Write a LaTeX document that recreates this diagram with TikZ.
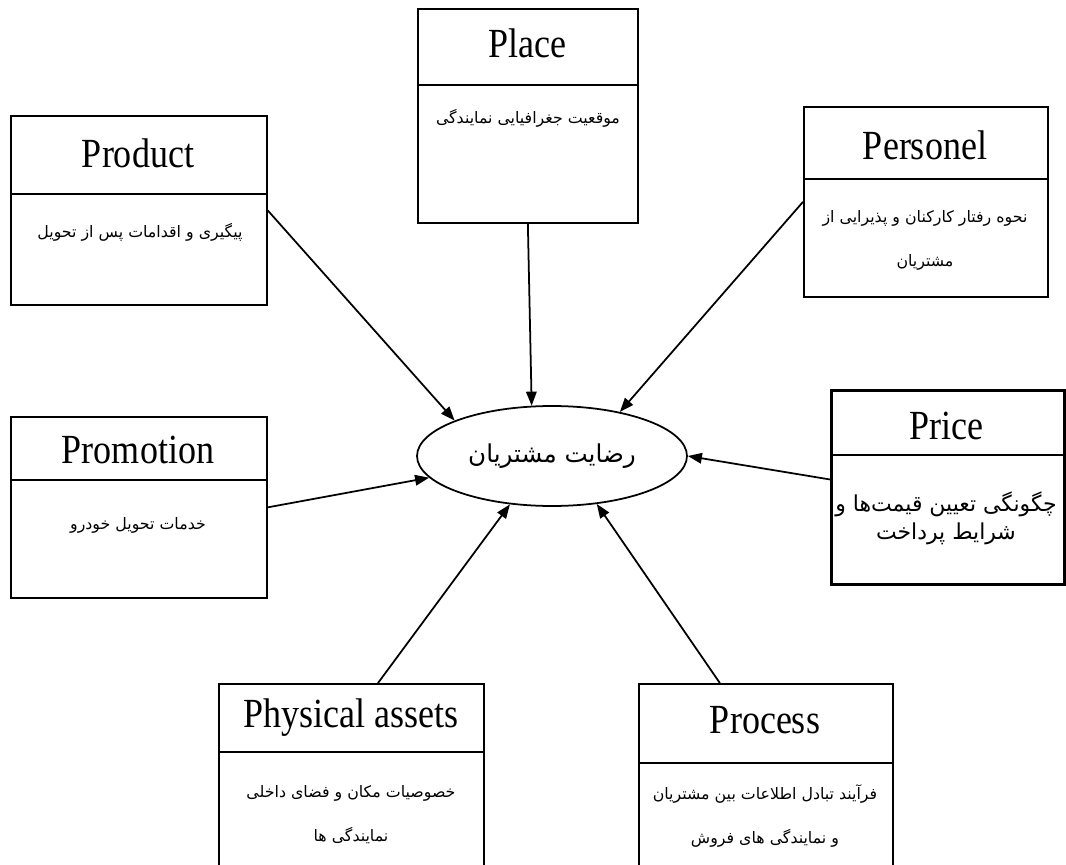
\documentclass[tikz,border=0pt]{standalone}
\usepackage{fontspec}
\setmainfont{Liberation Serif}
\newfontfamily\fa[Script=Arabic]{DejaVu Sans}
\TeXXeTstate=1
\usetikzlibrary{shapes.geometric,arrows.meta,calc}
\tikzset{
  box/.style={draw, line width=1pt, inner sep=0pt, anchor=north west},
  divider/.style={line width=1pt},
  ttl/.style={inner sep=0pt, font=\fontsize{20.5}{24}\selectfont},
  desc/.style={inner sep=0pt, align=center, font=\fa\fontsize{9}{25}\selectfont},
  pricedesc/.style={inner sep=0pt, align=center, font=\fa\fontsize{12.5}{16}\selectfont},
  conn/.style={line width=1pt, -{Triangle[length=8pt,width=6pt]}},
  hub/.style={draw, ellipse, line width=1pt, inner sep=0pt, minimum width=5.4cm, minimum height=2cm}
}
\newcommand{\tallt}[1]{\scalebox{1}[1.15]{#1}}
\begin{document}
\begin{tikzpicture}[x=0.02cm,y=-0.02cm]
\useasboundingbox (0,0) rectangle (1066,865);
\clip (0,0) rectangle (1066,865);
\fill[white] (0,0) rectangle (1066,865);

% boxes
\node[box, minimum width=4.40cm, minimum height=4.28cm] (place) at (417,8) {};
\node[box, minimum width=5.12cm, minimum height=3.78cm] (prod) at (10,115) {};
\node[box, minimum width=4.88cm, minimum height=3.80cm] (pers) at (803,106) {};
\node[box, line width=1.7pt, minimum width=4.66cm, minimum height=3.88cm] (price) at (830,389) {};
\node[box, minimum width=5.12cm, minimum height=3.62cm] (promo) at (10,416) {};
\node[box, minimum width=5.30cm, minimum height=4.40cm] (phys) at (218,683) {};
\node[box, minimum width=5.08cm, minimum height=4.40cm] (proc) at (638,683) {};

% dividers
\draw[divider] (417,85) -- (637,85);
\draw[divider] (10,194) -- (266,194);
\draw[divider] (803,179) -- (1047,179);
\draw[divider, line width=1.4pt] (830,455) -- (1063,455);
\draw[divider] (10,480) -- (266,480);
\draw[divider] (218,752) -- (483,752);
\draw[divider] (638,763) -- (892,763);

% titles
\node[ttl] (placeT) at (527,43) {\tallt{Place}};
\node[ttl] (prodT) at (138,153) {\tallt{Product}};
\node[ttl] (persT) at (925,145) {\tallt{Personel}};
\node[ttl] (priceT) at (946,426) {\tallt{Price}};
\node[ttl] (promoT) at (138,450) {\tallt{Promotion}};
\node[ttl] (physT) at (351,718) {\tallt{Physical assets}};
\node[ttl] (procT) at (765,720) {\tallt{Process}};

% descriptions
\node[desc] (placeD) at (528,118) {\beginR موقعیت جغرافیایی نمایندگی\endR};
\node[desc] (prodD) at (140,232) {\beginR پیگیری و اقدامات پس از تحویل\endR};
\node[desc] (persD) at (925,240) {\beginR نحوه رفتار کارکنان و پذیرایی از\endR\\\beginR مشتریان\endR};
\node[pricedesc] (priceD) at (946,518) {\beginR چگونگی تعیین قیمت‌ها و\endR\\\beginR شرایط پرداخت\endR};
\node[desc] (promoD) at (138,525) {\beginR خدمات تحویل خودرو\endR};
\node[desc] (physD) at (351,815) {\beginR خصوصیات مکان و فضای داخلی\endR\\\beginR نمایندگی ها\endR};
\node[desc] (procD) at (765,816) {\beginR فرآیند تبادل اطلاعات بین مشتریان\endR\\\beginR و نمایندگی های فروش\endR};

% central ellipse
\node[hub] (ell) at (552,456) {\fa\fontsize{14}{17}\selectfont\beginR رضایت مشتریان\endR};

% connectors
\draw[conn] (place.south) -- (ell.112);
\draw[conn] (prod.east) -- (ell.160);
\draw[conn] (pers.west) -- (ell.33);
\draw[conn] ($(price.west)+(0,-8)$) -- (ell.0);
\draw[conn] (promo.east) -- (ell.190);
\draw[conn] ($(phys.north west)!0.6!(phys.north east)$) -- (ell.229);
\draw[conn] ($(proc.north west)!0.32!(proc.north east)$) -- (ell.313);
\end{tikzpicture}
\end{document}
